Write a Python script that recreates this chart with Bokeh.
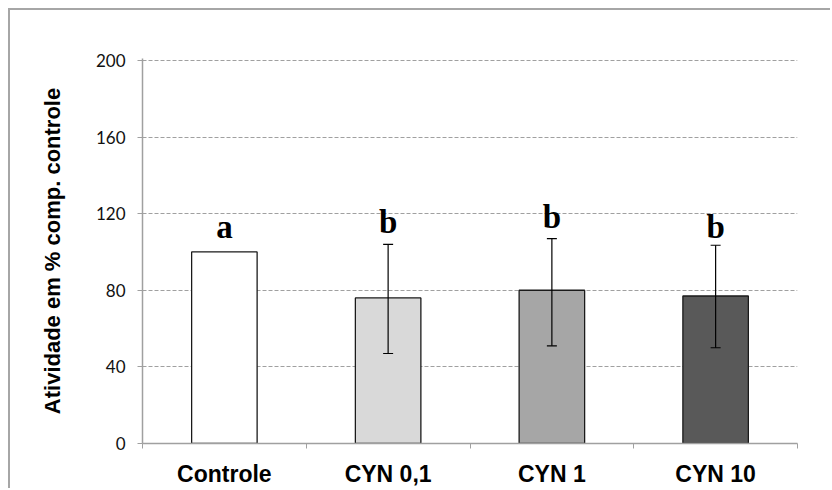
from bokeh.plotting import figure
from bokeh.models import ColumnDataSource, Range1d, FixedTicker, Whisker, TeeHead
from bokeh.core.properties import value
from bokeh.embed import file_html
from bokeh.resources import INLINE

categories = ["Controle", "CYN 0,1", "CYN 1", "CYN 10"]
means = [100, 76, 80, 77]
err_low = [None, 47, 51, 50]
err_high = [None, 104, 107, 103.5]
letters = ["a", "b", "b", "b"]
letter_y = [113, 115.5, 118, 113]
bar_colors = ["#ffffff", "#d9d9d9", "#a6a6a6", "#595959"]
y_ticks = [0, 40, 80, 120, 160, 200]

xs = [i + 0.5 for i in range(len(categories))]

p = figure(width=822, height=480, x_range=Range1d(0, len(categories)), y_range=Range1d(0, 201),
           output_backend="svg", toolbar_location=None,
           min_border_left=132, min_border_right=35, min_border_top=48, min_border_bottom=47)
p.styles = {"margin-left": "8px", "margin-top": "8px",
            "border-left": "2px solid #a6a6a6", "border-top": "2px solid #a6a6a6"}
p.outline_line_color = None
p.background_fill_color = "white"
p.border_fill_color = "white"

src = ColumnDataSource(dict(x=xs, top=means, color=bar_colors))
p.vbar(x="x", top="top", bottom=0, width=0.4, fill_color="color", line_color="#1a1a1a",
       line_width=1.3, source=src)

ex = [xs[i] for i in range(len(categories)) if err_low[i] is not None]
elo = [err_low[i] for i in range(len(categories)) if err_low[i] is not None]
ehi = [err_high[i] for i in range(len(categories)) if err_low[i] is not None]
esrc = ColumnDataSource(dict(base=ex, lower=elo, upper=ehi))
w = Whisker(base="base", lower="lower", upper="upper", source=esrc, line_color="black", line_width=1.2,
            upper_head=TeeHead(size=10, line_color="black", line_width=1.2),
            lower_head=TeeHead(size=10, line_color="black", line_width=1.2),
            level="annotation")
p.add_layout(w)

lsrc = ColumnDataSource(dict(x=xs, y=letter_y, t=letters))
p.text(x="x", y="y", text="t", source=lsrc, text_font=value("Liberation Serif"), text_font_style="bold",
       text_font_size="33px", text_align="center", text_baseline="alphabetic", text_color="black")

# grid
p.xgrid.grid_line_color = None
p.ygrid.grid_line_color = "#a0a0a0"
p.ygrid.grid_line_dash = "4 2"
p.ygrid.grid_line_width = 1

# y axis
p.yaxis.ticker = FixedTicker(ticks=y_ticks)
p.yaxis.axis_line_color = "#a0a0a0"
p.yaxis.axis_line_width = 1.5
p.yaxis.major_tick_line_color = "#a0a0a0"
p.yaxis.major_tick_out = 5
p.yaxis.major_tick_in = 0
p.yaxis.minor_tick_line_color = None
p.yaxis.major_label_text_font = "Lato"
p.yaxis.major_label_text_font_size = "17px"
p.yaxis.major_label_text_color = "#111111"
p.yaxis.major_label_standoff = 12
p.yaxis.axis_label = "Atividade em % comp. controle"
p.yaxis.axis_label_text_font = "Liberation Sans"
p.yaxis.axis_label_text_font_style = "bold"
p.yaxis.axis_label_text_font_size = "22px"
p.yaxis.axis_label_text_color = "black"
p.yaxis.axis_label_standoff = 28

# x axis: labels at category centres, boundary ticks as minor ticks
p.xaxis.ticker = FixedTicker(ticks=xs, minor_ticks=list(range(len(categories) + 1)))
p.xaxis.major_label_overrides = {x: c for x, c in zip(xs, categories)}
p.xaxis.axis_line_color = "#a0a0a0"
p.xaxis.axis_line_width = 1.5
p.xaxis.major_tick_line_color = None
p.xaxis.major_tick_out = 0
p.xaxis.major_tick_in = 0
p.xaxis.minor_tick_line_color = "#a0a0a0"
p.xaxis.minor_tick_out = 5
p.xaxis.minor_tick_in = 0
p.xaxis.major_label_text_font = "Liberation Sans"
p.xaxis.major_label_text_font_style = "bold"
p.xaxis.major_label_text_font_size = "23px"
p.xaxis.major_label_text_color = "black"
p.xaxis.major_label_standoff = 12

open("out.html", "w").write(file_html(p, INLINE))
